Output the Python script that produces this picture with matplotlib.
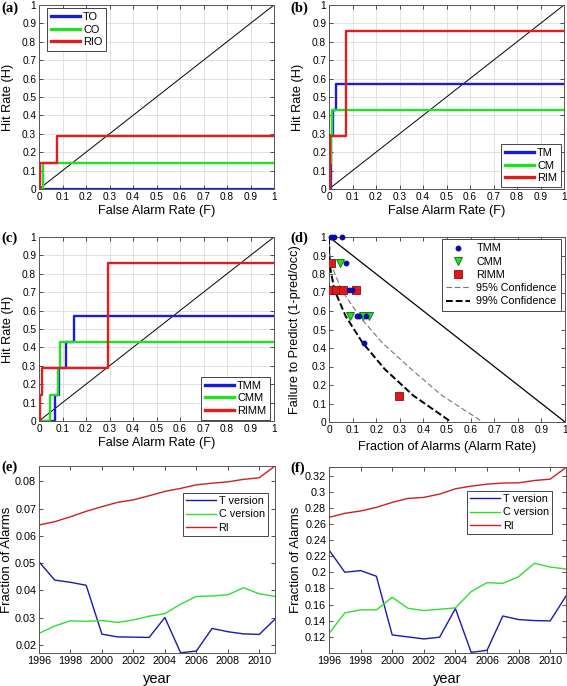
import matplotlib
matplotlib.use("Agg")
import matplotlib.pyplot as plt

plt.rcParams['font.family'] = ['Liberation Sans', 'DejaVu Sans']

BLUE = '#1c1cd6'
GREEN = '#22e022'
RED = '#e01e1e'

# ---------------- data ----------------
# (a) ROC, original versions
to_F = [0.0, 1.0]
to_H = [0.0, 0.0]
co_F = [0.0, 0.015, 1.0]
co_H = [0.0, 0.143, 0.143]
rio_F = [0.0, 0.005, 0.076, 1.0]
rio_H = [0.0, 0.143, 0.286, 0.286]

# (b) ROC, modified versions
tm_F = [0.0, 0.008, 0.018, 0.028, 1.0]
tm_H = [0.0, 0.286, 0.429, 0.571, 0.571]
cm_F = [0.0, 0.006, 0.01, 0.014, 1.0]
cm_H = [0.0, 0.143, 0.286, 0.429, 0.429]
rim_F = [0.0, 0.003, 0.072, 1.0]
rim_H = [0.0, 0.286, 0.857, 0.857]

# (c) ROC, modified-modified versions
tmm_F = [0.0, 0.07, 0.085, 0.115, 0.15, 1.0]
tmm_H = [0.0, 0.143, 0.286, 0.429, 0.571, 0.571]
cmm_F = [0.0, 0.045, 0.082, 0.09, 1.0]
cmm_H = [0.0, 0.143, 0.286, 0.429, 0.429]
rimm_F = [0.0, 0.005, 0.012, 0.295, 1.0]
rimm_H = [0.0, 0.143, 0.286, 0.857, 0.857]

# (d) Molchan diagram
mol_tmm_x = [0.008, 0.021, 0.054, 0.072, 0.086, 0.099, 0.118, 0.128, 0.155, 0.148]
mol_tmm_y = [1.0, 1.0, 1.0, 0.857, 0.714, 0.714, 0.571, 0.571, 0.571, 0.429]
mol_cmm_x = [0.048, 0.089, 0.145, 0.171]
mol_cmm_y = [0.857, 0.571, 0.571, 0.571]
mol_rimm_x = [0.009, 0.013, 0.03, 0.06, 0.114, 0.295]
mol_rimm_y = [0.857, 0.714, 0.714, 0.714, 0.714, 0.143]
conf_nu = [1.0, 0.857, 0.714, 0.571, 0.429, 0.286, 0.143, 0.0]
conf95_tau = [0.0, 0.007, 0.053, 0.129, 0.225, 0.348, 0.479, 0.652]
conf99_tau = [0.0, 0.0014, 0.023, 0.071, 0.142, 0.236, 0.357, 0.518]

# (e) / (f) fraction of alarms per year
years = [1996, 1997, 1998, 1999, 2000, 2001, 2002, 2003, 2004, 2005, 2006, 2007, 2008, 2009, 2010, 2011]
e_T = [0.0505, 0.0438, 0.0430, 0.0419, 0.0240, 0.0230, 0.0229, 0.0228, 0.0301, 0.0172, 0.0178, 0.0261, 0.0249, 0.0241, 0.0239, 0.0295]
e_C = [0.0243, 0.0270, 0.0289, 0.0287, 0.0290, 0.0283, 0.0292, 0.0306, 0.0315, 0.0350, 0.0378, 0.0380, 0.0384, 0.0410, 0.0388, 0.0378]
e_RI = [0.0640, 0.0652, 0.0670, 0.0690, 0.0707, 0.0723, 0.0732, 0.0747, 0.0763, 0.0774, 0.0787, 0.0793, 0.0798, 0.0807, 0.0813, 0.0856]
f_T = [0.2278, 0.2001, 0.2022, 0.1951, 0.1222, 0.1197, 0.1172, 0.1193, 0.1550, 0.1005, 0.1030, 0.1457, 0.1413, 0.1400, 0.1396, 0.1706]
f_C = [0.1239, 0.1496, 0.1533, 0.1533, 0.1690, 0.1553, 0.1524, 0.1541, 0.1558, 0.1760, 0.1872, 0.1863, 0.1946, 0.2112, 0.2066, 0.2041]
f_RI = [0.2684, 0.2734, 0.2763, 0.2808, 0.2870, 0.2919, 0.2932, 0.2973, 0.3039, 0.3072, 0.3097, 0.3110, 0.3113, 0.3142, 0.3159, 0.3304]

unit_ticks = [0, 0.1, 0.2, 0.3, 0.4, 0.5, 0.6, 0.7, 0.8, 0.9, 1]
unit_labels = ['0', '0.1', '0.2', '0.3', '0.4', '0.5', '0.6', '0.7', '0.8', '0.9', '1']
e_yticks = [0.02, 0.03, 0.04, 0.05, 0.06, 0.07, 0.08]
e_ylabels = ['0.02', '0.03', '0.04', '0.05', '0.06', '0.07', '0.08']
f_yticks = [0.12, 0.14, 0.16, 0.18, 0.2, 0.22, 0.24, 0.26, 0.28, 0.3, 0.32]
f_ylabels = ['0.12', '0.14', '0.16', '0.18', '0.2', '0.22', '0.24', '0.26', '0.28', '0.3', '0.32']
year_ticks = [1996, 1998, 2000, 2002, 2004, 2006, 2008, 2010]

# ---------------- figure ----------------
W, H = 567, 686
fig = plt.figure(figsize=(W / 100, H / 100), dpi=100)


def add_ax(l, r, t, b):
    return fig.add_axes([l / W, 1 - b / H, (r - l) / W, (b - t) / H])


TICK_FS = 7.3
LAB_FS = 9.2


def style(ax, grid=False):
    ax.tick_params(direction='in', length=3, width=0.6, labelsize=TICK_FS, top=True, right=True,
                   colors='#333333', labelcolor='black', pad=2)
    for s in ax.spines.values():
        s.set_color('#555555')
        s.set_linewidth(0.7)
    if grid:
        ax.grid(True, color='#dcdcdc', linewidth=0.6, linestyle='-')
        ax.set_axisbelow(True)


def roc_axes(ax):
    ax.set_xlim(0, 1)
    ax.set_ylim(0, 1)
    ax.set_xticks(unit_ticks)
    ax.set_xticklabels(unit_labels)
    ax.set_yticks(unit_ticks)
    ax.set_yticklabels(unit_labels)
    style(ax, grid=True)
    ax.plot([0, 1], [0, 1], color='black', lw=0.7, zorder=2)
    ax.set_xlabel('False Alarm Rate (F)', fontsize=LAB_FS)
    ax.set_ylabel('Hit Rate (H)', fontsize=LAB_FS)
    ax.xaxis.set_label_coords(0.5, -0.088)
    ax.yaxis.set_label_coords(-0.108, 0.5)


def leg(ax, loc, anchor, fs=7.9, hl=2.7, ls=0.25, hp=0.25, bp=0.35):
    lg = ax.legend(loc=loc, bbox_to_anchor=anchor, borderaxespad=0, fontsize=fs, fancybox=False,
                   framealpha=1, edgecolor='#444444', handlelength=hl, borderpad=bp,
                   labelspacing=ls, handletextpad=hp)
    lg.get_frame().set_linewidth(0.7)
    return lg


LW = 1.7

# (a)
ax = add_ax(39, 274, 5, 189)
roc_axes(ax)
ax.step(to_F, to_H, where='post', color=BLUE, lw=LW + 0.6, label='TO', zorder=3)
ax.step(co_F, co_H, where='post', color=GREEN, lw=LW, label='CO', zorder=3)
ax.step(rio_F, rio_H, where='post', color=RED, lw=LW, label='RIO', zorder=3)
lg = leg(ax, 'upper left', (0.034, 0.984))
for l in lg.get_lines():
    l.set_linewidth(2.4)

# (b)
ax = add_ax(329, 564, 5, 189)
roc_axes(ax)
ax.step(tm_F, tm_H, where='post', color=BLUE, lw=LW, label='TM', zorder=3)
ax.step(cm_F, cm_H, where='post', color=GREEN, lw=LW, label='CM', zorder=3)
ax.step(rim_F, rim_H, where='post', color=RED, lw=LW, label='RIM', zorder=3)
lg = leg(ax, 'lower right', (0.987, 0.01))
for l in lg.get_lines():
    l.set_linewidth(2.4)

# (c)
ax = add_ax(39, 274, 237, 421)
roc_axes(ax)
ax.step(tmm_F, tmm_H, where='post', color=BLUE, lw=LW, label='TMM', zorder=3)
ax.step(cmm_F, cmm_H, where='post', color=GREEN, lw=LW, label='CMM', zorder=3)
ax.step(rimm_F, rimm_H, where='post', color=RED, lw=LW, label='RIMM', zorder=3)
lg = leg(ax, 'lower right', (0.983, 0.006))
for l in lg.get_lines():
    l.set_linewidth(2.4)

# (d)
ax = add_ax(329, 565, 237, 422)
ax.set_xlim(0, 1)
ax.set_ylim(0, 1)
ax.set_xticks(unit_ticks)
ax.set_xticklabels(unit_labels)
ax.set_yticks(unit_ticks)
ax.set_yticklabels(unit_labels)
style(ax, grid=False)
ax.plot([0, 1], [1, 0], color='black', lw=0.9, zorder=2)
ax.plot(mol_tmm_x, mol_tmm_y, 'o', color='#0a0aa8', ms=3.2, mec='#0a0aa8', label='TMM', zorder=5, clip_on=False)
ax.plot(mol_cmm_x, mol_cmm_y, 'v', color=GREEN, ms=6, mec='#177a17', mew=0.7, label='CMM', zorder=4)
ax.plot(mol_rimm_x, mol_rimm_y, 's', color='#e01818', ms=5.2, mec='#8a0e0e', mew=0.6, label='RIMM', zorder=4)
ax.plot(conf95_tau, conf_nu, '--', color='#777777', lw=0.8, dashes=(5, 2.5), label='95% Confidence', zorder=3)
ax.plot(conf99_tau, conf_nu, '--', color='black', lw=1.4, dashes=(3.5, 1.5), label='99% Confidence', zorder=3)
ax.set_xlabel('Fraction of Alarms (Alarm Rate)', fontsize=LAB_FS)
ax.set_ylabel('Failure to Predict (1-pred/occ)', fontsize=LAB_FS)
ax.xaxis.set_label_coords(0.5, -0.105)
ax.yaxis.set_label_coords(-0.119, 0.5)
leg(ax, 'upper right', (0.983, 0.989), fs=7.8, hl=2.2, ls=0.3, hp=0.6, bp=0.4)


def ts_axes(ax, T, C, RI, yticks, ylabels, ylim):
    ax.plot(years, T, color='#1a1ab0', lw=1.0, label='T version')
    ax.plot(years, C, color='#2ee02e', lw=1.0, label='C version')
    ax.plot(years, RI, color='#cc2020', lw=1.0, label='RI')
    ax.set_xlim(1996, 2011)
    ax.set_ylim(*ylim)
    ax.set_xticks(year_ticks)
    ax.set_xticklabels([str(y) for y in year_ticks])
    ax.set_yticks(yticks)
    ax.set_yticklabels(ylabels)
    style(ax, grid=False)
    ax.tick_params(labelsize=7.8)
    ax.set_xlabel('year', fontsize=10.5)
    ax.set_ylabel('Fraction of Alarms', fontsize=LAB_FS + 0.3)
    ax.xaxis.set_label_coords(0.5, -0.1)
    ax.yaxis.set_label_coords(-0.112, 0.5)


# (e)
ax = add_ax(39, 275, 466, 653)
ts_axes(ax, e_T, e_C, e_RI, e_yticks, e_ylabels, (0.0171, 0.0856))
leg(ax, 'upper right', (0.970, 0.856), fs=7.8, hl=2.8, ls=0.3, hp=0.2, bp=0.3)

# (f)
ax = add_ax(329, 566, 467, 653)
ts_axes(ax, f_T, f_C, f_RI, f_yticks, f_ylabels, (0.0997, 0.331))
leg(ax, 'upper right', (0.941, 0.871), fs=7.8, hl=2.8, ls=0.3, hp=0.2, bp=0.3)

# panel letters
for txt, x, y in [('(a)', 1, 8), ('(b)', 290, 8), ('(c)', 1, 238), ('(d)', 290, 238),
                  ('(e)', 1, 467), ('(f)', 290, 468)]:
    fig.text(x / W, 1 - y / H, txt, fontsize=10.5, fontweight='bold',
             family=['Liberation Serif', 'DejaVu Serif'], ha='left', va='center')

fig.savefig('out.png', dpi=100)
